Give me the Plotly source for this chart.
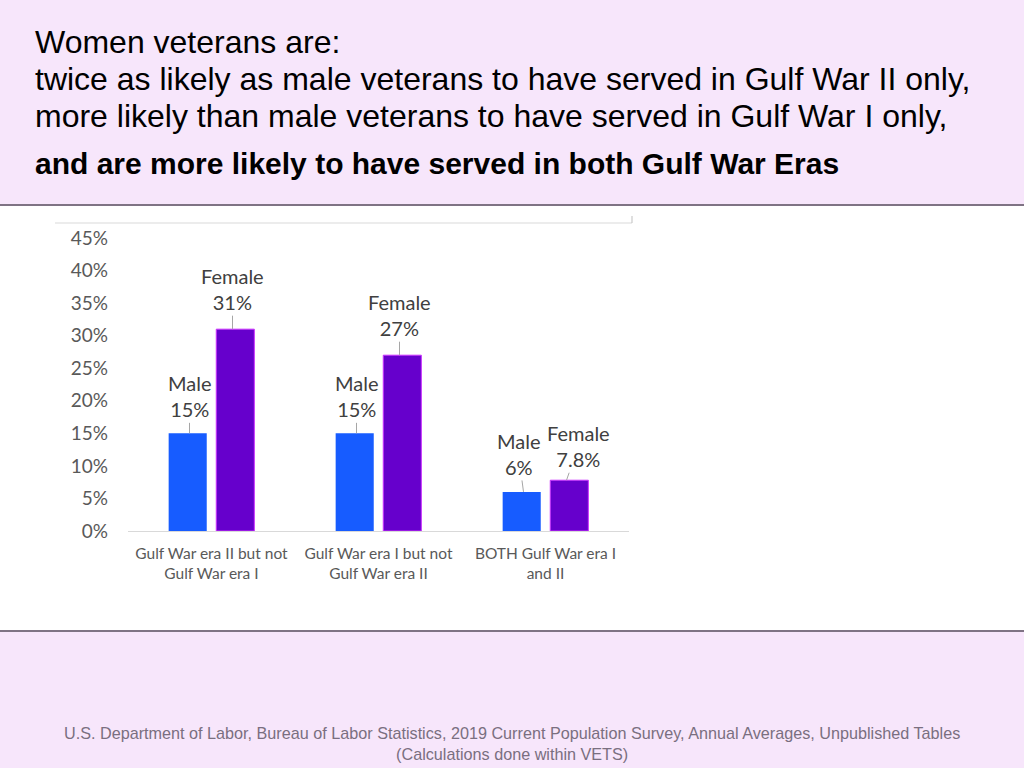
import plotly.graph_objects as go

categories = ["Gulf War era II but not<br>Gulf War era I",
              "Gulf War era I but not<br>Gulf War era II",
              "BOTH Gulf War era I<br>and II"]
male = [15, 15, 6]
female = [31, 27, 7.8]
male_labels = ["Male<br>15%", "Male<br>15%", "Male<br>6%"]
female_labels = ["Female<br>31%", "Female<br>27%", "Female<br>7.8%"]
male_offsets = [(0, -37), (0, -37), (-5, -38)]
female_offsets = [(0, -40), (0, -40), (12, -34)]
yticks = [0, 5, 10, 15, 20, 25, 30, 35, 40, 45]

W, H = 1024, 768
PINK = "#F7E6FB"
LABEL_FONT = "Lato, Open Sans, sans-serif"
HEAD_FONT = "Liberation Sans, Arial, sans-serif"

fig = go.Figure()
fig.add_trace(go.Bar(name="Male", x=categories, y=male, marker_color="#175CFF",
                     marker_line_width=0))
fig.add_trace(go.Bar(name="Female", x=categories, y=female, marker_color="#6600CC",
                     marker_line=dict(color="#CC33FF", width=1)))

def py(px):
    return 1 - px / H

shapes = [
    dict(type="rect", xref="paper", yref="paper", x0=0, x1=1, y0=py(205), y1=1,
         fillcolor=PINK, line_width=0, layer="below"),
    dict(type="line", xref="paper", yref="paper", x0=0, x1=1, y0=py(205), y1=py(205),
         line=dict(color="#7F7384", width=2)),
    dict(type="rect", xref="paper", yref="paper", x0=0, x1=1, y0=0, y1=py(631),
         fillcolor=PINK, line_width=0, layer="below"),
    dict(type="line", xref="paper", yref="paper", x0=0, x1=1, y0=py(631), y1=py(631),
         line=dict(color="#7F7384", width=2)),
    dict(type="line", xref="paper", yref="paper", x0=55 / W, x1=632 / W, y0=py(223), y1=py(223),
         line=dict(color="#D9D9D9", width=1)),
    dict(type="line", xref="paper", yref="paper", x0=632 / W, x1=632 / W, y0=py(223), y1=py(216),
         line=dict(color="#BFBFBF", width=1)),
]

annotations = []
for i, c in enumerate(categories):
    annotations.append(dict(x=c, y=male[i], xref="x", yref="y", text=male_labels[i],
                            showarrow=True, arrowhead=0, arrowwidth=1, arrowcolor="#A6A6A6",
                            ax=male_offsets[i][0], ay=male_offsets[i][1], xshift=-22,
                            font=dict(family=LABEL_FONT, size=20, color="#404040")))
    annotations.append(dict(x=c, y=female[i], xref="x", yref="y", text=female_labels[i],
                            showarrow=True, arrowhead=0, arrowwidth=1, arrowcolor="#A6A6A6",
                            ax=female_offsets[i][0], ay=female_offsets[i][1], xshift=21,
                            font=dict(family=LABEL_FONT, size=20, color="#404040")))

head_lines = [
    ("Women veterans are:", 42, 32),
    ("twice as likely as male veterans to have served in Gulf War II only,", 79, 32),
    ("more likely than male veterans to have served in Gulf War I only,", 116, 32),
    ("<b>and are more likely to have served in both Gulf War Eras</b>", 163, 30),
]
for txt, yy, sz in head_lines:
    annotations.append(dict(x=33 / W, y=py(yy), xref="paper", yref="paper", text=txt,
                            showarrow=False, xanchor="left", yanchor="middle",
                            font=dict(family=HEAD_FONT, size=sz, color="#000000")))

annotations.append(dict(x=0.5, y=py(743), xref="paper", yref="paper",
                        text="U.S. Department of Labor, Bureau of Labor Statistics, 2019 Current Population Survey, Annual Averages, Unpublished Tables<br>(Calculations done within VETS)",
                        showarrow=False, xanchor="center", yanchor="middle",
                        font=dict(family=HEAD_FONT, size=16.2, color="#7A6F80")))

fig.update_layout(
    width=W, height=H, margin=dict(l=0, r=0, t=0, b=0, autoexpand=False),
    paper_bgcolor="white", plot_bgcolor="white",
    showlegend=False, barmode="group", bargap=0.43, bargroupgap=0.2,
    shapes=shapes, annotations=annotations,
    xaxis=dict(domain=[128 / W, 629 / W], showgrid=False, showline=True,
               linecolor="#D9D9D9", linewidth=1, ticks="", automargin=False,
               ticklabelstandoff=8,
               tickfont=dict(family=LABEL_FONT, size=15.5, color="#595959")),
    yaxis=dict(domain=[py(531), py(238)], range=[0, 45], tickvals=yticks,
               ticktext=[f"{v}%" for v in yticks], showgrid=False, zeroline=False,
               showline=False, ticks="", ticklabelstandoff=19, automargin=False,
               tickfont=dict(family=LABEL_FONT, size=19, color="#595959")),
)

fig.write_html("out.html", config={"displayModeBar": False},
               post_script="document.body.style.margin='0px';")
